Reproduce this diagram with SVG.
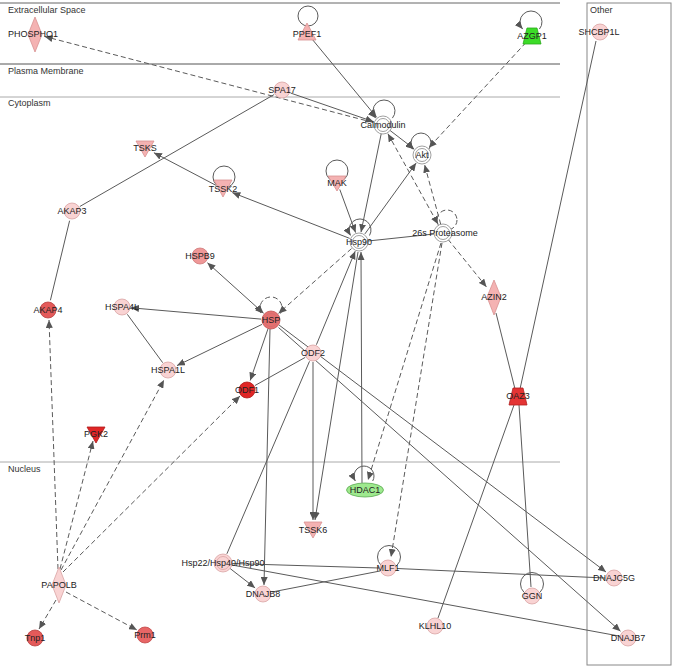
<svg xmlns="http://www.w3.org/2000/svg" width="674" height="672" viewBox="0 0 674 672">
<defs>
<marker id="ar" viewBox="0 0 8 7" refX="8" refY="3.5" markerWidth="8" markerHeight="7" markerUnits="userSpaceOnUse" orient="auto-start-reverse"><path d="M0,0 L8,3.5 L0,7 z" fill="#555"/></marker>
</defs>
<style>
text{font-family:"Liberation Sans",Arial,sans-serif;font-size:9px;fill:#222;text-anchor:middle}
.cl{text-anchor:start;fill:#333}
.e{stroke:#5a5a5a;stroke-width:1;fill:none}
.d{stroke:#5a5a5a;stroke-width:1;fill:none;stroke-dasharray:5,3}
.lp{stroke:#aaa;stroke-width:1;fill:none}
.pk1{fill:#f9d3d3;stroke:#d9a3a3;stroke-width:0.8}
.pk2{fill:#f4b2b2;stroke:#d89090;stroke-width:0.8}
.pk3{fill:#ef9898;stroke:#cf7a7a;stroke-width:0.8}
.rd1{fill:#e45a5a;stroke:#b84040;stroke-width:0.8}
.rd2{fill:#e02626;stroke:#b01a1a;stroke-width:0.8}
.wh{fill:#fff;stroke:#888;stroke-width:0.8}
</style>
<rect width="674" height="672" fill="#fff"/>
<g id="compartments">
<line x1="0" y1="3" x2="560" y2="3" stroke="#666"/>
<line x1="0" y1="64" x2="560" y2="64" stroke="#555"/>
<line x1="0" y1="97" x2="560" y2="97" stroke="#aaa"/>
<line x1="0" y1="462" x2="560" y2="462" stroke="#aaa"/>
<rect x="587" y="3" width="84" height="662" fill="none" stroke="#888"/>
<text class="cl" x="8" y="13">Extracellular Space</text>
<text class="cl" x="8" y="74">Plasma Membrane</text>
<text class="cl" x="8" y="106">Cytoplasm</text>
<text class="cl" x="8" y="472">Nucleus</text>
<text class="cl" x="590" y="13">Other</text>
</g>
<g id="connectors">
<line class="d" x1="373.3" y1="122.5" x2="44.7" y2="36.5" marker-end="url(#ar)"/>
<line class="e" x1="312" y1="39" x2="376.6" y2="117.3" marker-end="url(#ar)"/>
<line class="e" x1="290.5" y1="93" x2="373.5" y2="121.7" marker-end="url(#ar)"/>
<line class="e" x1="274.2" y1="94.5" x2="79.8" y2="206.5"/>
<line class="e" x1="69.6" y1="220.7" x2="50.4" y2="300.3"/>
<line class="e" x1="390.1" y1="130.5" x2="414.1" y2="148.9" marker-end="url(#ar)"/>
<line class="e" x1="381.2" y1="133.8" x2="361" y2="232.2" marker-end="url(#ar)"/>
<line class="d" x1="387.9" y1="133.7" x2="438.1" y2="224.3" marker-start="url(#ar)" marker-end="url(#ar)"/>
<line class="d" x1="440.7" y1="224.3" x2="424.6" y2="164.7" marker-end="url(#ar)"/>
<line class="d" x1="525.9" y1="42.6" x2="428.8" y2="147.7" marker-end="url(#ar)"/>
<line class="e" x1="364.9" y1="233.9" x2="416.1" y2="163.1" marker-end="url(#ar)"/>
<line class="e" x1="339.8" y1="189.5" x2="355.6" y2="232.6" marker-end="url(#ar)"/>
<line class="e" x1="349.7" y1="238.4" x2="232.3" y2="192.6" marker-end="url(#ar)"/>
<line class="e" x1="215.9" y1="185.3" x2="153.9" y2="152.7" marker-end="url(#ar)"/>
<line class="e" x1="368" y1="241" x2="434" y2="234"/>
<line class="d" x1="448" y1="239.3" x2="486.5" y2="287" marker-end="url(#ar)"/>
<line class="d" x1="441" y1="243" x2="368" y2="480" marker-end="url(#ar)"/>
<line class="d" x1="442" y1="243" x2="391" y2="557" marker-end="url(#ar)"/>
<line class="d" x1="351.5" y1="248.6" x2="278.5" y2="313.4" marker-end="url(#ar)"/>
<line class="e" x1="207.4" y1="262.7" x2="263.6" y2="313.3" marker-start="url(#ar)" marker-end="url(#ar)"/>
<line class="e" x1="261" y1="319.1" x2="131" y2="307.8" marker-end="url(#ar)"/>
<line class="e" x1="127.3" y1="314.3" x2="162.7" y2="362.7"/>
<line class="e" x1="262" y1="324.4" x2="177" y2="365.6" marker-end="url(#ar)"/>
<line class="e" x1="268.1" y1="328.5" x2="250.2" y2="380.5" marker-end="url(#ar)"/>
<line class="e" x1="305.2" y1="357.4" x2="254.8" y2="385.6"/>
<line class="e" x1="270" y1="329" x2="264" y2="585" marker-end="url(#ar)"/>
<line class="e" x1="279" y1="325" x2="606" y2="572" marker-end="url(#ar)"/>
<line class="e" x1="278.5" y1="327.5" x2="620.5" y2="631.3" marker-end="url(#ar)"/>
<line class="e" x1="316.4" y1="344.7" x2="355.2" y2="251.2" marker-end="url(#ar)"/>
<line class="e" x1="358" y1="252" x2="315" y2="520" marker-end="url(#ar)"/>
<line class="e" x1="313" y1="362" x2="313" y2="520" marker-end="url(#ar)"/>
<line class="e" x1="362" y1="483" x2="361" y2="252" marker-end="url(#ar)"/>
<line class="e" x1="309.5" y1="361.3" x2="226.9" y2="553.8"/>
<line class="e" x1="230.1" y1="568.5" x2="255.1" y2="587.9" marker-end="url(#ar)"/>
<line class="e" x1="232" y1="563.5" x2="379" y2="568"/>
<line class="e" x1="397" y1="568.5" x2="605" y2="578"/>
<line class="e" x1="232" y1="565" x2="619" y2="636"/>
<line class="e" x1="272" y1="592" x2="380" y2="571"/>
<line class="e" x1="496" y1="313" x2="515" y2="389"/>
<line class="e" x1="596" y1="41" x2="520" y2="389"/>
<line class="e" x1="514" y1="405" x2="438" y2="618"/>
<line class="e" x1="519" y1="405" x2="531" y2="587"/>
<line class="d" x1="58" y1="569" x2="49" y2="320" marker-end="url(#ar)"/>
<line class="d" x1="60" y1="569" x2="93" y2="441" marker-end="url(#ar)"/>
<line class="d" x1="61" y1="570" x2="164" y2="380" marker-end="url(#ar)"/>
<line class="d" x1="63" y1="572" x2="240" y2="396" marker-end="url(#ar)"/>
<line class="d" x1="56" y1="600" x2="39" y2="629" marker-end="url(#ar)"/>
<line class="d" x1="66" y1="592" x2="137" y2="630" marker-end="url(#ar)"/>
<circle class="e" cx="308" cy="16" r="10"/>
<path class="e" d="M539.4,29.1 A11 11 0 1 0 522.6,29.1" marker-end="url(#ar)"/>
<path class="e" d="M392.4,118.1 A11 11 0 1 0 375.6,118.1" marker-end="url(#ar)"/>
<path class="e" d="M428.7,149.4 A10 10 0 1 0 413.3,149.4" marker-end="url(#ar)"/>
<path class="e" d="M369.5,235.5 A11 11 0 1 0 350.5,235.5" marker-end="url(#ar)"/>
<path class="d" d="M280.5,313.5 A11 11 0 1 0 261.5,313.5" marker-end="url(#ar)"/>
<circle class="d" cx="447" cy="220" r="10"/>
<circle class="e" cx="224" cy="177" r="11"/>
<circle class="e" cx="337" cy="171" r="11"/>
<circle class="e" cx="389" cy="557" r="11.5"/>
<circle class="e" cx="532" cy="584" r="11.5"/>
<path class="e" d="M372.7,481 A10 10 0 1 0 355.3,481" marker-end="url(#ar)"/>
</g>
<g id="PHOSPHO1"><polygon class="pk2" points="35,17 42,34.5 35,52 28,34.5"/><text x="33" y="37">PHOSPHO1</text></g>
<g id="PPEF1"><polygon class="pk2" points="307,23 316,40 298,40"/><text x="307" y="37">PPEF1</text></g>
<g id="AZGP1"><polygon points="527,28 537,28 541,44 523,44" fill="#3cdc28" stroke="#2aa81a" stroke-width="0.8"/><text x="532" y="39">AZGP1</text></g>
<g id="SHCBP1L"><circle class="pk1" cx="600" cy="32" r="8"/><text x="599" y="35">SHCBP1L</text></g>
<g id="SPA17"><circle class="pk1" cx="282" cy="90" r="8"/><text x="282" y="93">SPA17</text></g>
<g id="Calmodulin"><circle class="wh" cx="383" cy="125" r="9"/><circle class="wh" cx="383" cy="125" r="6.5"/><text x="383" y="128">Calmodulin</text></g>
<g id="Akt"><circle class="wh" cx="422" cy="155" r="9"/><circle class="wh" cx="422" cy="155" r="6.5"/><text x="422" y="158">Akt</text></g>
<g id="TSKS"><polygon class="pk2" points="136,141 154,141 145,157"/><text x="145" y="151">TSKS</text></g>
<g id="TSSK2"><polygon class="pk2" points="214,180 232,180 223,197"/><text x="223" y="192">TSSK2</text></g>
<g id="MAK"><polygon class="pk2" points="328,176 346,176 337,191"/><text x="337" y="186">MAK</text></g>
<g id="AKAP3"><circle class="pk1" cx="72" cy="211" r="8"/><text x="72" y="214">AKAP3</text></g>
<g id="HSPB9"><circle class="pk3" cx="200" cy="256" r="8"/><text x="200" y="259">HSPB9</text></g>
<g id="Hsp90"><circle class="wh" cx="359" cy="242" r="9"/><circle class="wh" cx="359" cy="242" r="6.5"/><text x="359" y="245">Hsp90</text></g>
<g id="Proteasome26s"><circle class="wh" cx="443" cy="233" r="9"/><circle class="wh" cx="443" cy="233" r="6.5"/><text x="445" y="236">26s Proteasome</text></g>
<g id="AZIN2"><polygon class="pk2" points="494,280 501,297 494,315 487,297"/><text x="494" y="300">AZIN2</text></g>
<g id="AKAP4"><circle class="rd1" cx="48" cy="310" r="8"/><text x="48" y="313">AKAP4</text></g>
<g id="HSPA4L"><circle class="pk1" cx="122" cy="307" r="8"/><text x="122" y="310">HSPA4L</text></g>
<g id="HSP"><circle cx="271" cy="320" r="9" fill="#e67070" stroke="#c05050" stroke-width="0.8"/><circle cx="271" cy="320" r="6.5" fill="#e67070" stroke="#c87070" stroke-width="0.6"/><text x="271" y="323">HSP</text></g>
<g id="ODF2"><circle class="pk1" cx="313" cy="353" r="8"/><text x="313" y="356">ODF2</text></g>
<g id="HSPA1L"><circle class="pk1" cx="168" cy="370" r="8"/><text x="168" y="373">HSPA1L</text></g>
<g id="ODF1"><circle class="rd2" cx="247" cy="390" r="8"/><text x="247" y="393">ODF1</text></g>
<g id="PGK2"><polygon class="rd2" points="87,427 105,427 96,443"/><text x="96" y="437">PGK2</text></g>
<g id="OAZ3"><polygon points="513,388 523,388 527,405 509,405" fill="#e43434" stroke="#b02020" stroke-width="0.8"/><text x="518" y="399">OAZ3</text></g>
<g id="HDAC1"><ellipse cx="365" cy="490" rx="18.5" ry="7" fill="#9ee98e" stroke="#5aaa50" stroke-width="0.8"/><text x="365" y="493">HDAC1</text></g>
<g id="TSSK6"><polygon class="pk2" points="304,522 322,522 313,538"/><text x="313" y="533">TSSK6</text></g>
<g id="Hsp22"><circle class="pk1" cx="223" cy="563" r="9"/><circle class="pk1" cx="223" cy="563" r="6.5"/><text x="223" y="566">Hsp22/Hsp40/Hsp90</text></g>
<g id="DNAJB8"><circle class="pk1" cx="263" cy="594" r="8"/><text x="263" y="597">DNAJB8</text></g>
<g id="MLF1"><circle class="pk1" cx="388" cy="568" r="8"/><text x="388" y="571">MLF1</text></g>
<g id="GGN"><circle class="pk1" cx="532" cy="596" r="8"/><text x="532" y="599">GGN</text></g>
<g id="DNAJC5G"><circle class="pk1" cx="614" cy="578" r="8"/><text x="614" y="581">DNAJC5G</text></g>
<g id="DNAJB7"><circle class="pk1" cx="628" cy="638" r="8"/><text x="628" y="641">DNAJB7</text></g>
<g id="KLHL10"><circle class="pk1" cx="435" cy="626" r="8"/><text x="435" y="629">KLHL10</text></g>
<g id="PAPOLB"><polygon class="pk1" points="59,567 66,585 59,603 52,585"/><text x="59" y="588">PAPOLB</text></g>
<g id="Tnp1"><circle class="rd1" cx="35" cy="638" r="8"/><text x="35" y="641">Tnp1</text></g>
<g id="Prm1"><circle cx="145" cy="635" r="8" fill="#e86666" stroke="#c04848" stroke-width="0.8"/><text x="145" y="638">Prm1</text></g>
</svg>
